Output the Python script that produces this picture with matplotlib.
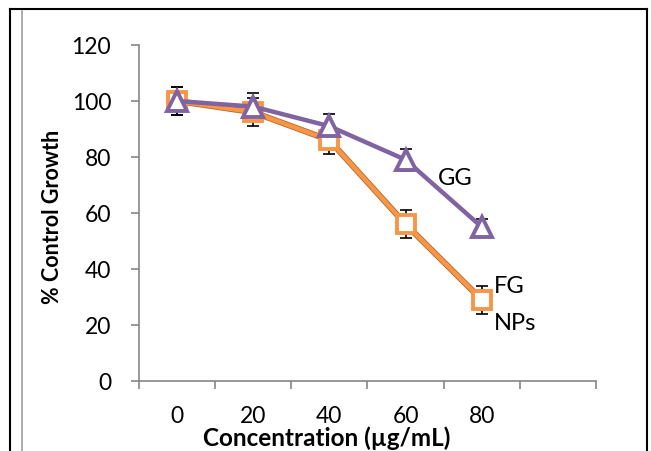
import matplotlib
matplotlib.use("Agg")
import matplotlib.pyplot as plt
import matplotlib.patheffects as pe
from matplotlib.lines import Line2D
import numpy as np

# category labels on the x axis (Excel-style category axis)
concentrations = ["0", "20", "40", "60", "80"]

# % control growth
gg_values = [100, 98, 91, 79, 55]
gg_errors = [5, 5, 4.5, 4, 3]
fg_values = [100, 96, 86, 56, 29]
fg_errors = [5, 5, 5, 5, 5]

orange = "#F79646"
purple = "#8064A2"
axis_gray = "#868686"

plt.rcParams["font.family"] = ["Lato", "DejaVu Sans"]

fig = plt.figure(figsize=(6.51, 4.52), dpi=100)
ax = fig.add_axes([139/651, 70/452, (596-139)/651, (382-46)/452])

x = np.arange(len(concentrations))

# error bars first so the markers sit on top of them
ax.errorbar(x, fg_values, yerr=fg_errors, fmt="none", ecolor="black",
            elinewidth=1.2, capsize=4, capthick=1.2, zorder=2)
ax.errorbar(x, gg_values, yerr=gg_errors, fmt="none", ecolor="black",
            elinewidth=1.2, capsize=4, capthick=1.2, zorder=2)

# FG NPs line with the dark edge Excel puts on it
ax.plot(x, fg_values, color=orange, lw=3.2, zorder=3,
        path_effects=[pe.Stroke(linewidth=4.4, foreground="#B86A2A"), pe.Normal()])
ax.plot(x, fg_values, ls="none", marker="s", markersize=13.5, markerfacecolor="white",
        markeredgecolor=orange, markeredgewidth=2.8, zorder=4)

ax.plot(x, gg_values, color=purple, lw=3.2, zorder=5)
ax.plot(x, gg_values, ls="none", marker="^", markersize=14.5, markerfacecolor="white",
        markeredgecolor=purple, markeredgewidth=2.8, zorder=6)

# series labels written next to the lines
ax.text(3.43, 72.5, "GG", fontsize=17, ha="left", va="center")
ax.text(4.16, 34, "FG", fontsize=17, ha="left", va="center")
ax.text(4.16, 21, "NPs", fontsize=17, ha="left", va="center")

ax.set_xlim(-0.5, 5.5)
ax.set_ylim(0, 120)
ax.set_yticks(np.arange(0, 121, 20))
ax.set_xticks(x)
ax.set_xticklabels(concentrations)
ax.set_xticks(np.arange(-0.5, 5.6, 1), minor=True)

ax.tick_params(axis="x", which="major", length=0, pad=17, labelsize=16.5)
ax.tick_params(axis="x", which="minor", length=6, width=1.2, color=axis_gray, direction="out")
ax.tick_params(axis="y", length=6, width=1.2, color=axis_gray, direction="out", labelsize=16.5, pad=14)

for side in ["top", "right"]:
    ax.spines[side].set_visible(False)
for side in ["left", "bottom"]:
    ax.spines[side].set_color(axis_gray)
    ax.spines[side].set_linewidth(1.2)

ax.set_xlabel("Concentration (µg/mL)", fontsize=17.5, fontweight="bold", va="baseline")
ax.set_ylabel("% Control Growth", fontsize=15.5, fontweight="bold")
ax.xaxis.set_label_coords((327-139)/457, (382-446)/336)
ax.yaxis.set_label_coords((63-139)/457, (382-217)/336)

# frame lines from the surrounding page
fig.add_artist(Line2D([10/651, 10/651], [0, 1 - 10/452], color="black", lw=1.5, transform=fig.transFigure))
fig.add_artist(Line2D([10/651, 647/651], [1 - 10/452, 1 - 10/452], color="black", lw=1.5, transform=fig.transFigure))
fig.add_artist(Line2D([647/651, 647/651], [0, 1 - 10/452], color="black", lw=1.5, transform=fig.transFigure))
fig.add_artist(Line2D([22/651, 22/651], [0, 1 - 12/452], color="#A0A0A0", lw=1.2, transform=fig.transFigure))

fig.savefig("out.png", dpi=100)
